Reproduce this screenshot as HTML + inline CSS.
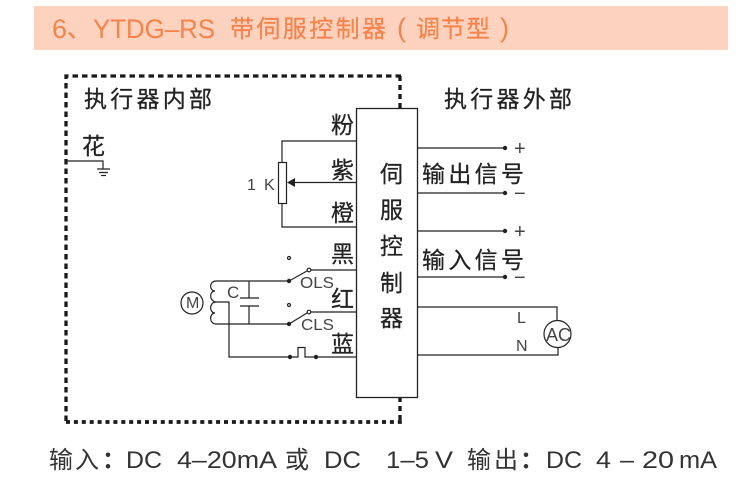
<!DOCTYPE html>
<html><head><meta charset="utf-8">
<style>
html,body{margin:0;padding:0;background:#fff;width:750px;height:492px;overflow:hidden}
svg{display:block}
text{font-family:"Liberation Sans","Noto Sans CJK SC",sans-serif;fill:#222}
.c{font-size:23px;stroke:#222;stroke-width:.25}
.l{fill:#444;font-size:16px}
.b{font-size:24px;fill:#333}
.h{font-size:24px;fill:#f5834a;stroke:#f5834a;stroke-width:.2}
.hl{font-size:27px;fill:#f5834a}
</style></head><body>
<svg width="750" height="492" viewBox="0 0 750 492" xmlns="http://www.w3.org/2000/svg">
<rect x="34" y="6" width="694" height="44" fill="#fdd2bf"/>
<text class="hl" x="52" y="38" textLength="15" lengthAdjust="spacingAndGlyphs">6</text>
<text class="h" x="67" y="37">、</text>
<text class="hl" x="93" y="38" textLength="122" lengthAdjust="spacingAndGlyphs">YTDG–RS</text>
<text class="h" x="230" y="37" textLength="156">带伺服控制器</text>
<text class="hl" x="397" y="37">(</text>
<text class="h" x="416" y="37" textLength="74">调节型</text>
<text class="hl" x="500" y="37">)</text>

<g fill="none" stroke="#1a1a1a" stroke-width="3.3">
<path d="M401 76H66V422" stroke-dasharray="5.500 4"/>
<path d="M66 422H402" stroke-width="3.8" stroke-dasharray="4 3.900"/>
<path d="M400 76V108" stroke-dasharray="5 4"/>
<path d="M400 397V422" stroke-dasharray="5 4"/>
</g>
<rect x="356.500" y="108.500" width="61" height="289" fill="#fff" stroke="#222" stroke-width="1.3"/>

<g fill="none" stroke="#222" stroke-width="1.2">
<path d="M356 141H282V162M282 203V227H356"/>
<rect x="278.500" y="162.500" width="8" height="41" fill="#fff"/>
<path d="M295 182.500H356"/>
<path d="M66 161H103V169M97 169H110M99 172.500H108M101 175.500H106"/>
<path d="M356 270H311M307 271L289 281M356 312H311M307 313L289 324"/>
<path d="M216 281H289M216 324H289M249 281V298M240 298H259M240 306H259M249 306V324"/>
<path d="M216 281c-7 0-7 10 -1 10c-6 0-6 10 1 11c-7 0-7 11 -1 11c-6 0-6 11 1 11"/>
<path d="M216 302H229V357H298V347.500H305V357H356"/>
<circle cx="192" cy="303" r="11"/>
<circle cx="309" cy="270" r="1.800"/>
<circle cx="309" cy="312" r="1.800"/>
<circle cx="289" cy="258" r="1.500"/>
<circle cx="289" cy="305" r="1.500"/>
<path d="M418 148H505M418 193H505M418 231H505M418 277H505"/>
<path d="M418 307H557V321M418 355H558V347"/>
<circle cx="557.500" cy="334" r="13.500"/>
</g>
<path d="M287 182.500L295 178V187Z" fill="#222"/>
<g fill="#222">
<circle cx="289" cy="281" r="2.200"/><circle cx="289" cy="324" r="2.200"/>
<circle cx="290" cy="357" r="2.200"/><circle cx="316" cy="357" r="2.200"/>
<circle cx="505" cy="148" r="2.200"/><circle cx="505" cy="193" r="2.200"/>
<circle cx="505" cy="231" r="2.200"/><circle cx="505" cy="277" r="2.200"/>
</g>

<text class="c" x="84" y="107" textLength="128">执行器内部</text>
<text class="c" x="444" y="107" textLength="128">执行器外部</text>
<text class="c" x="82" y="154">花</text>
<text class="c" x="331" y="133">粉</text>
<text class="c" x="331" y="178">紫</text>
<text class="c" x="331" y="221">橙</text>
<text class="c" x="331" y="262">黑</text>
<text class="c" x="331" y="307">红</text>
<text class="c" x="331" y="352">蓝</text>
<text class="c" x="380" y="182">伺</text>
<text class="c" x="380" y="218">服</text>
<text class="c" x="380" y="254">控</text>
<text class="c" x="380" y="291">制</text>
<text class="c" x="380" y="326">器</text>
<text class="c" x="422" y="182" textLength="102">输出信号</text>
<text class="c" x="422" y="268" textLength="102">输入信号</text>

<text class="l" x="247" y="190">1</text>
<text class="l" x="264" y="190">K</text>
<text class="l" x="300" y="288" textLength="34" lengthAdjust="spacingAndGlyphs">OLS</text>
<text class="l" x="301" y="330" textLength="33" lengthAdjust="spacingAndGlyphs">CLS</text>
<text class="l" x="227" y="298" style="font-size:17px">C</text>
<text class="l" x="186" y="308" style="font-size:16px">M</text>
<text class="l" x="517" y="323">L</text>
<text class="l" x="516" y="351">N</text>
<text class="l" x="546" y="341" style="font-size:18px" textLength="25" lengthAdjust="spacingAndGlyphs">AC</text>
<text class="l" x="514" y="155" style="font-size:20px">+</text>
<text class="l" x="514" y="200" style="font-size:20px">−</text>
<text class="l" x="514" y="238" style="font-size:20px">+</text>
<text class="l" x="514" y="284" style="font-size:20px">−</text>

<text class="b" x="49" y="468" textLength="50" style="font-size:24px">输入</text>
<text class="b" x="102" y="468" font-weight="bold">：</text>
<text class="b" x="126" y="468" textLength="36" lengthAdjust="spacingAndGlyphs">DC</text>
<text class="b" x="177" y="468" textLength="100" lengthAdjust="spacingAndGlyphs">4–20mA</text>
<text class="b" x="285" y="468">或</text>
<text class="b" x="324" y="468" textLength="37" lengthAdjust="spacingAndGlyphs">DC</text>
<text class="b" x="386" y="468" textLength="43" lengthAdjust="spacingAndGlyphs">1–5</text>
<text class="b" x="435" y="468" textLength="18" lengthAdjust="spacingAndGlyphs">V</text>
<text class="b" x="467" y="468" textLength="51">输出</text>
<text class="b" x="520" y="468" font-weight="bold">：</text>
<text class="b" x="546" y="468" textLength="36" lengthAdjust="spacingAndGlyphs">DC</text>
<text class="b" x="596" y="468" textLength="15" lengthAdjust="spacingAndGlyphs">4</text>
<text class="b" x="620" y="468" textLength="14" lengthAdjust="spacingAndGlyphs">–</text>
<text class="b" x="642" y="468" textLength="32" lengthAdjust="spacingAndGlyphs">20</text>
<text class="b" x="679" y="468" textLength="38" lengthAdjust="spacingAndGlyphs">mA</text>
</svg>
</body></html>
